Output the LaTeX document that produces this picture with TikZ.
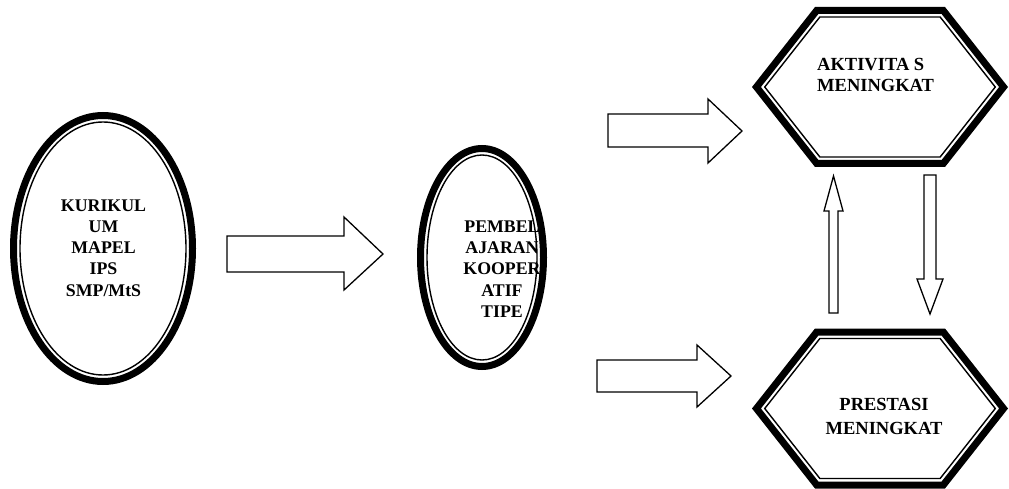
\documentclass[tikz,border=0pt]{standalone}
\usepackage{fontspec}
\setmainfont{Liberation Serif}
\usetikzlibrary{shapes.geometric}
% hexagon: centre x, centre y, inset, style
\newcommand\hexdraw[4]{%
  \draw[#4] ({#1-128+1.273*#3},{#2}) -- ({#1-65+0.486*#3},{#2-80+#3}) -- ({#1+65-0.486*#3},{#2-80+#3})
    -- ({#1+128-1.273*#3},{#2}) -- ({#1+65-0.486*#3},{#2+80-#3}) -- ({#1-65+0.486*#3},{#2+80-#3}) -- cycle;}
\begin{document}
\begin{tikzpicture}[x=1pt,y=-1pt,
  thickb/.style={line width=7pt, line join=miter},
  thinb/.style={line width=1.4pt, line join=miter},
  blk/.style={draw, line width=1.3pt, line join=miter, fill=white},
  txt/.style={font=\bfseries\fontsize{18.5}{21}\selectfont, align=center, inner sep=0pt},
  etxt/.style={txt, font=\bfseries\fontsize{17.8}{21.2}\selectfont}]
\useasboundingbox (0,0) rectangle (1009,489);

% ellipse 1
\node[draw, ellipse, thickb, minimum width=179pt, minimum height=266pt, inner sep=0pt] (kur) at (103,248.5) {};
\draw[thinb] (kur.center) ellipse [x radius=83, y radius=126.5];
\node[etxt] (kurt) at (103.5,248) {KURIKUL\\UM\\MAPEL\\IPS\\SMP/MtS};

% ellipse 2
\node[draw, ellipse, thickb, minimum width=123pt, minimum height=218pt, inner sep=0pt] (pem) at (482,257.5) {};
\draw[thinb] (pem.center) ellipse [x radius=55, y radius=102.5];
\node[etxt] (pemt) at (502,269) {PEMBEL\\AJARAN\\KOOPER\\ATIF\\TIPE};

% hexagons
\coordinate (akt) at (880,87);
\hexdraw{880}{87}{3.5}{thickb}
\hexdraw{880}{87}{10}{thinb}
\node[txt, align=left, anchor=west] (aktt) at (817,75) {AKTIVITA S\\MENINGKAT};

\coordinate (pre) at (880,408.5);
\hexdraw{880}{408.5}{3.5}{thickb}
\hexdraw{880}{408.5}{10}{thinb}
\node[txt] (pret) at (884,416) {PRESTASI\\[3pt]MENINGKAT};

% block arrows
\draw[blk] (227,236) -- (344,236) -- (344,217) -- (383,254) -- (344,290) -- (344,272) -- (227,272) -- cycle;
\draw[blk] (608,114) -- (708,114) -- (708,99) -- (742,131) -- (708,163) -- (708,147) -- (608,147) -- cycle;
\draw[blk] (597,360) -- (697,360) -- (697,345) -- (731,376) -- (697,407) -- (697,392) -- (597,392) -- cycle;
\draw[blk] (829,313) -- (829,211) -- (824,211) -- (833.5,176) -- (843,211) -- (838,211) -- (838,313) -- cycle;
\draw[blk] (924,175) -- (936,175) -- (936,279) -- (943,279) -- (930,314) -- (917,279) -- (924,279) -- cycle;
\end{tikzpicture}
\end{document}
